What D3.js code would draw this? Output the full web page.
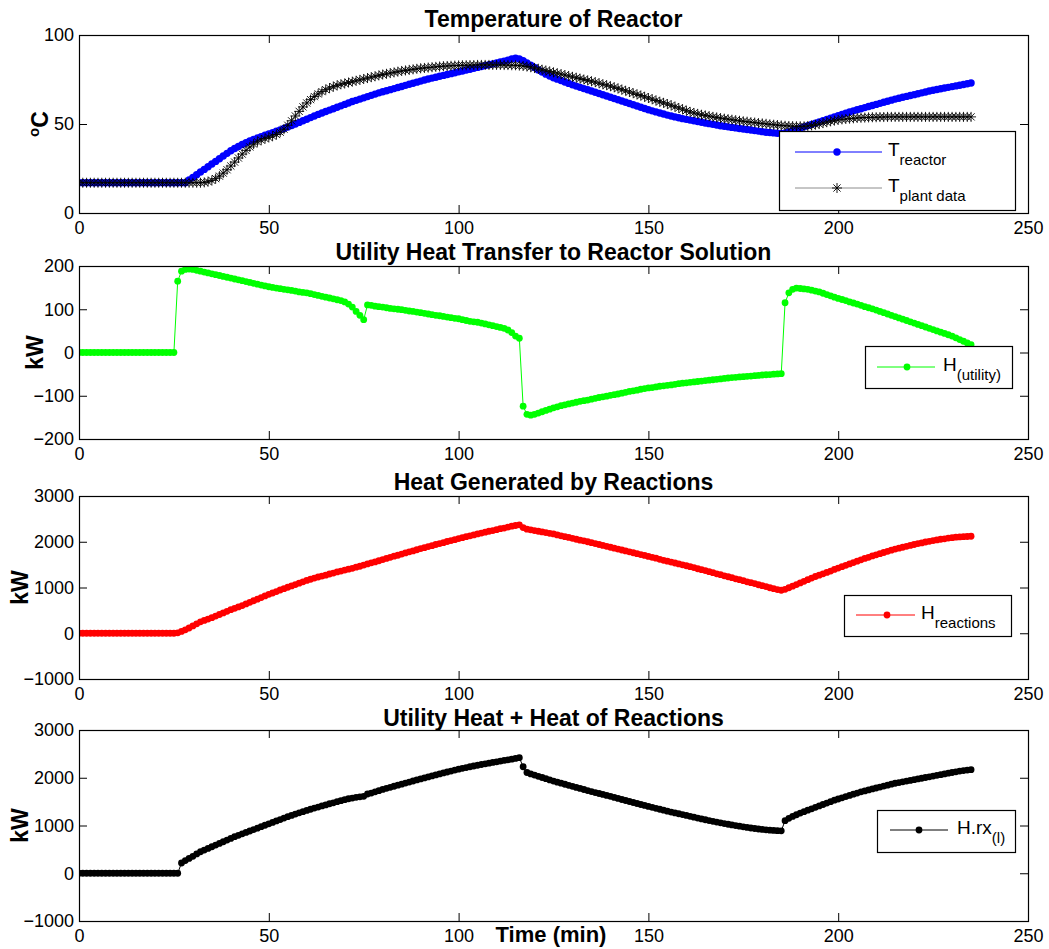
<!DOCTYPE html>
<html>
<head>
<meta charset="utf-8">
<script src="https://cdn.jsdelivr.net/npm/d3@7"></script>
<style>
  body { margin: 0; background: #fff; }
  text { font-family: "Liberation Sans", Arial, sans-serif; fill: #000; }
</style>
</head>
<body>
<svg id="chart" width="1049" height="949"></svg>
<script>
// Samples are logged once per minute, starting at t = 0 min.
const SAMPLE_STEP_MIN = 1;

// Reactor temperature, simulated (degC)
const tReactor = [
  17,17,17,17,17,17,17,17,17,17,
  17,17,17,17,17,17,17,17,17,17,
  17,17,17,17,17,17,17,17,17,18.5,
  20,21.5,23,24.5,26,27.5,29,30.5,32,33.5,
  35,36.2,37.4,38.5,39.5,40.5,41.3,42.1,42.9,43.7,
  44.4,45.1,45.9,46.7,47.5,48.3,49.1,50,50.9,51.8,
  52.7,53.6,54.5,55.4,56.2,57,57.8,58.6,59.4,60.2,
  61,61.8,62.6,63.3,64,64.7,65.4,66.1,66.8,67.5,
  68.1,68.7,69.3,69.9,70.5,71.1,71.7,72.3,72.9,73.5,
  74.1,74.7,75.3,75.8,76.3,76.8,77.3,77.8,78.3,78.8,
  79.3,79.8,80.3,80.8,81.3,81.8,82.3,82.8,83.3,83.8,
  84.3,84.8,85.3,85.9,86.5,87,86.5,85.5,84.3,83,
  81.7,80.4,79.2,78,76.9,76,75.2,74.4,73.6,72.8,
  72,71.3,70.6,69.9,69.2,68.5,67.8,67.1,66.4,65.7,
  65,64.3,63.6,62.9,62.2,61.5,60.8,60.1,59.4,58.7,
  58,57.4,56.8,56.2,55.6,55,54.5,54,53.5,53,
  52.6,52.2,51.8,51.4,51,50.6,50.2,49.8,49.4,49,
  48.7,48.4,48.1,47.8,47.5,47.2,46.9,46.6,46.3,46,
  45.7,45.4,45.2,45,44.8,44.7,45,45.6,46.3,47,
  47.7,48.4,49.1,49.8,50.5,51.2,51.9,52.6,53.3,54,
  54.7,55.4,56.1,56.8,57.4,58,58.6,59.2,59.8,60.4,
  61,61.6,62.2,62.8,63.4,64,64.5,65,65.5,66,
  66.5,67,67.5,68,68.5,69,69.4,69.8,70.2,70.6,
  71,71.4,71.8,72.2,72.6,73
];

// Reactor temperature, plant measurements (degC)
const tPlant = [
  17,17,17,17,17,17,17,17,17,17,
  17,17,17,17,17,17,17,17,17,17,
  17,17,17,17,17,17,17,17,17,17,
  17,17,17,17.2,17.6,18.3,19.3,20.7,22.4,24.3,
  26.4,28.6,30.9,33.1,35.2,37.1,38.7,40,41,41.8,
  42.5,43.2,44.1,45.4,47.1,49.3,51.8,54.5,57.1,59.6,
  61.8,63.7,65.4,66.9,68.2,69.3,70.2,71,71.7,72.3,
  72.8,73.3,73.8,74.3,74.8,75.3,75.8,76.3,76.8,77.3,
  77.8,78.2,78.6,79,79.4,79.8,80.1,80.4,80.7,81,
  81.3,81.5,81.7,81.9,82.1,82.3,82.5,82.6,82.7,82.8,
  82.9,83,83,83.1,83.1,83.2,83.2,83.2,83.2,83.2,
  83.2,83.2,83.1,83.1,83,83,82.8,82.6,82.3,81.9,
  81.5,81,80.5,80,79.5,79,78.5,78,77.5,77,
  76.5,76,75.5,75,74.5,74,73.5,72.9,72.3,71.8,
  71.2,70.6,70,69.3,68.7,68,67.3,66.6,66,65.3,
  64.6,63.9,63.2,62.5,61.9,61.2,60.5,59.7,59,58.3,
  57.5,56.8,56.2,55.7,55.2,54.8,54.4,54,53.7,53.3,
  53,52.7,52.4,52.1,51.8,51.5,51.3,51,50.8,50.5,
  50.3,50.1,49.8,49.6,49.4,49.2,49,48.9,48.8,48.7,
  48.7,48.7,48.9,49.2,49.6,50,50.5,51,51.5,51.9,
  52.3,52.6,52.8,53,53.2,53.4,53.5,53.6,53.7,53.8,
  53.8,53.9,53.9,54,54,54,54,54,54,54,
  54,54,54,54,54,54,54,54,54,54,
  54,54,54,54,54,54
];

// Utility heat transfer to the reactor solution (kW)
const hUtility = [
  0,0,0,0,0,0,0,0,0,0,
  0,0,0,0,0,0,0,0,0,0,
  0,0,0,0,0,0,165,188,192,193,
  192,190,188,186,184,182,180,178,176,174,
  172,170,168,166,164,162,160,158,156,154,
  152,150.5,149,147.5,146,145,143.5,142,140,139,
  138,136,134,132,130,128,126,124,122,120,
  117,112,105,95,86,76,110,109,107,106,
  105,103.5,102,101,100,99,97.5,96,95,93.5,
  92,90.5,89,87.5,86,85,83.5,82,80.5,79,
  78,76,74,72,71,70,68,66,64,62,
  60,58,56,52,46,38,33,-124,-143,-145,
  -143,-140,-137,-134,-131,-128,-125.5,-123,-121,-119,
  -117,-115,-113,-111.5,-110,-108,-106,-104,-102.5,-101,
  -99,-97.5,-96,-94,-92,-90,-88.5,-87,-85,-83.5,
  -82,-81,-79.5,-78,-77,-76,-75,-73.5,-72,-71,
  -70,-69,-68,-67,-66,-65,-64,-63,-62,-61,
  -60,-59,-58,-57.5,-56.5,-56,-55,-54.5,-53.5,-53,
  -52,-51.5,-51,-50,-49.5,-49,115,138,146,149,
  148,147,146,144,142,140,137,134,131,128,
  125,122.5,120,117,114.5,112,109,106,103.5,101,
  98,95,92,89,86,83,80,77,74,71,
  68,65,62,59,56,53,50,47,44,41,
  38,34,30,26,22,18
];

// Heat generated by the reactions (kW)
const hReactions = [
  0,0,0,0,0,0,0,0,0,0,
  0,0,0,0,0,0,0,0,0,0,
  0,0,0,0,0,0,10,40,75,115,
  160,205,250,280,310,340,375,410,445,480,
  515,545,575,605,640,675,710,745,780,815,
  850,880,910,945,975,1005,1035,1065,1095,1125,
  1155,1180,1205,1230,1250,1270,1295,1315,1340,1360,
  1380,1400,1420,1445,1465,1490,1515,1540,1560,1585,
  1610,1635,1660,1685,1705,1730,1755,1780,1800,1825,
  1850,1870,1895,1915,1940,1960,1980,2005,2025,2045,
  2070,2090,2110,2130,2150,2170,2190,2210,2230,2245,
  2265,2285,2300,2320,2340,2355,2370,2310,2275,2260,
  2245,2230,2215,2200,2185,2170,2150,2130,2110,2095,
  2075,2055,2035,2020,2000,1980,1960,1940,1920,1900,
  1880,1860,1840,1820,1800,1780,1760,1740,1720,1700,
  1680,1660,1640,1615,1595,1575,1555,1535,1515,1495,
  1475,1455,1435,1410,1390,1370,1345,1325,1300,1280,
  1255,1235,1215,1190,1170,1150,1125,1105,1085,1060,
  1040,1020,995,975,955,940,960,995,1030,1065,
  1100,1135,1170,1205,1240,1270,1300,1330,1360,1395,
  1425,1455,1485,1515,1545,1575,1605,1635,1660,1690,
  1715,1740,1765,1790,1815,1840,1860,1880,1900,1920,
  1940,1960,1975,1995,2010,2025,2040,2055,2065,2080,
  2090,2100,2105,2110,2115,2120
];

// Utility heat plus heat of reactions, H.rx(l) (kW)
const hRxTotal = [
  0,0,0,0,0,0,0,0,0,0,
  0,0,0,0,0,0,0,0,0,0,
  0,0,0,0,0,0,0,215,265,310,
  355,405,450,485,520,555,590,625,660,695,
  730,765,795,825,855,885,915,945,975,1005,
  1035,1065,1095,1125,1155,1185,1210,1240,1265,1290,
  1315,1340,1365,1385,1410,1430,1455,1475,1500,1520,
  1540,1560,1575,1590,1600,1610,1660,1680,1705,1730,
  1755,1778,1800,1822,1844,1866,1888,1910,1932,1954,
  1975,1996,2017,2038,2059,2080,2100,2120,2140,2160,
  2180,2197,2214,2230,2246,2262,2277,2292,2306,2320,
  2334,2348,2362,2376,2390,2405,2420,2230,2110,2080,
  2055,2030,2005,1980,1955,1930,1908,1886,1864,1842,
  1820,1798,1776,1754,1732,1710,1690,1670,1650,1630,
  1610,1588,1566,1545,1524,1503,1482,1461,1440,1420,
  1400,1380,1360,1340,1320,1300,1282,1264,1246,1228,
  1210,1192,1174,1156,1138,1120,1104,1088,1072,1056,
  1040,1026,1012,998,985,972,960,948,937,927,
  918,910,903,897,892,888,1100,1150,1190,1225,
  1260,1290,1320,1350,1380,1410,1440,1470,1500,1530,
  1555,1580,1605,1630,1655,1680,1705,1725,1745,1765,
  1785,1805,1825,1845,1865,1885,1900,1915,1930,1945,
  1960,1975,1990,2005,2020,2035,2050,2065,2080,2095,
  2110,2125,2140,2150,2160,2170
];

// Axis ticks
const timeTicks = [0, 50, 100, 150, 200, 250];
const tempTicks = [0, 50, 100];
const utilityTicks = [-200, -100, 0, 100, 200];
const powerTicks = [-1000, 0, 1000, 2000, 3000];

// ---------------------------------------------------------------------------
const svg = d3.select("#chart");
const FONT = "'Liberation Sans', Arial, sans-serif";
const x = d3.scaleLinear().domain([0, 250]).range([79, 1028]);
const toPoints = vals => vals.map((v, i) => [i * SAMPLE_STEP_MIN, v]);
const plain = d3.format("d");

// asterisk marker used for the plant data
function starPath(s) {
  const d = s * 0.72;
  return `M${-s},0H${s}M0,${-s}V${s}M${-d},${-d}L${d},${d}M${-d},${d}L${d},${-d}`;
}

const panels = [
  {
    top: 35, bottom: 213, domain: [0, 100], ticks: tempTicks,
    title: "Temperature of Reactor", titleY: 27,
    ylab: "degC", ylabX: 48,
    series: [
      { values: tReactor, color: "#0000ff", lineColor: "#0000ff", marker: "dot", r: 3.7 },
      { values: tPlant, color: "#000", lineColor: "#8c8c8c", marker: "star", r: 5 }
    ],
    legend: { x0: 779, y0: 131, x1: 1015, y1: 210, lx0: 795, lx1: 882, mx: 837, tx: 888,
      rows: [{ y: 152, s: 0, main: "T", sub: "reactor" }, { y: 188, s: 1, main: "T", sub: "plant data" }] }
  },
  {
    top: 266, bottom: 439, domain: [-200, 200], ticks: utilityTicks,
    title: "Utility Heat Transfer to Reactor Solution", titleY: 260,
    ylab: "kW", ylabX: 43,
    series: [{ values: hUtility, color: "#00ff00", lineColor: "#00ff00", marker: "dot", r: 3.4 }],
    legend: { x0: 865, y0: 346, x1: 1012, y1: 388, lx0: 877, lx1: 935, mx: 907, tx: 943,
      rows: [{ y: 367, s: 0, main: "H", sub: "(utility)" }] }
  },
  {
    top: 496, bottom: 679, domain: [-1000, 3000], ticks: powerTicks,
    title: "Heat Generated by Reactions", titleY: 490,
    ylab: "kW", ylabX: 28,
    series: [{ values: hReactions, color: "#ff0000", lineColor: "#ff0000", marker: "dot", r: 3.4 }],
    legend: { x0: 844, y0: 595, x1: 1011, y1: 636, lx0: 856, lx1: 915, mx: 887, tx: 921,
      rows: [{ y: 615, s: 0, main: "H", sub: "reactions" }] }
  },
  {
    top: 730, bottom: 921, domain: [-1000, 3000], ticks: powerTicks,
    title: "Utility Heat + Heat of Reactions", titleY: 725.5,
    ylab: "kW", ylabX: 28,
    series: [{ values: hRxTotal, color: "#000", lineColor: "#000", marker: "dot", r: 3.4 }],
    legend: { x0: 877, y0: 810, x1: 1015, y1: 852, lx0: 890, lx1: 948, mx: 919, tx: 957,
      rows: [{ y: 830, s: 0, main: "H.rx", sub: "(l)" }] }
  }
];

panels.forEach((p, pi) => {
  const y = d3.scaleLinear().domain(p.domain).range([p.bottom, p.top]);
  const g = svg.append("g");
  const clipId = "clip" + pi;
  svg.append("clipPath").attr("id", clipId)
    .append("rect").attr("x", x.range()[0]).attr("y", p.top)
    .attr("width", x.range()[1] - x.range()[0]).attr("height", p.bottom - p.top);

  // axes (inward ticks on all four sides, box style)
  const tick = 8;
  const ax = g.append("g").attr("class", "axes");
  ax.append("g").attr("transform", `translate(0,${p.bottom})`)
    .call(d3.axisBottom(x).tickValues(timeTicks).tickFormat(plain)
      .tickSizeInner(-tick).tickSizeOuter(0).tickPadding(8));
  ax.append("g").attr("transform", `translate(0,${p.top})`)
    .call(d3.axisTop(x).tickValues(timeTicks).tickSizeInner(-tick).tickSizeOuter(0).tickFormat(""));
  ax.append("g").attr("transform", `translate(${x.range()[0]},0)`)
    .call(d3.axisLeft(y).tickValues(p.ticks).tickFormat(plain)
      .tickSizeInner(-tick).tickSizeOuter(0).tickPadding(5));
  ax.append("g").attr("transform", `translate(${x.range()[1]},0)`)
    .call(d3.axisRight(y).tickValues(p.ticks).tickSizeInner(-tick).tickSizeOuter(0).tickFormat(""));
  ax.selectAll(".domain").remove();
  ax.selectAll(".tick line").attr("stroke", "#000").attr("stroke-width", 1);
  ax.selectAll(".tick text").attr("font-size", 18).attr("font-family", FONT).attr("fill", "#000");

  // series: thin connecting line plus markers at every sample
  const plot = g.append("g").attr("clip-path", `url(#${clipId})`);
  const line = d3.line().x(d => x(d[0])).y(d => y(d[1]));
  p.series.forEach(s => {
    const pts = toPoints(s.values);
    plot.append("path").attr("d", line(pts)).attr("fill", "none")
      .attr("stroke", s.lineColor).attr("stroke-width", 1);
    if (s.marker === "dot") {
      plot.append("g").selectAll("circle").data(pts).join("circle")
        .attr("cx", d => x(d[0])).attr("cy", d => y(d[1])).attr("r", s.r)
        .attr("fill", s.color);
    } else {
      plot.append("g").selectAll("path").data(pts).join("path")
        .attr("transform", d => `translate(${x(d[0])},${y(d[1])})`)
        .attr("d", starPath(s.r)).attr("fill", "none")
        .attr("stroke", s.color).attr("stroke-width", 0.9);
    }
  });

  // frame
  g.append("rect").attr("x", x.range()[0] + 0.5).attr("y", p.top + 0.5)
    .attr("width", x.range()[1] - x.range()[0]).attr("height", p.bottom - p.top)
    .attr("fill", "none").attr("stroke", "#000").attr("stroke-width", 1.2);

  // title
  g.append("text").attr("x", (x.range()[0] + x.range()[1]) / 2).attr("y", p.titleY)
    .attr("text-anchor", "middle").attr("font-weight", "bold").attr("font-size", 23)
    .text(p.title);

  // y label
  const cy = (p.top + p.bottom) / 2;
  const yl = g.append("text").attr("transform", `translate(${p.ylabX},${cy}) rotate(-90)`)
    .attr("text-anchor", "middle").attr("font-weight", "bold").attr("font-size", 23);
  if (p.ylab === "degC") {
    yl.append("tspan").attr("font-size", 15).attr("dy", -9).text("o");
    yl.append("tspan").attr("dy", 9).text("C");
  } else {
    yl.text(p.ylab);
  }

  // legend
  const L = p.legend;
  const lg = g.append("g");
  lg.append("rect").attr("x", L.x0 + 0.5).attr("y", L.y0 + 0.5)
    .attr("width", L.x1 - L.x0).attr("height", L.y1 - L.y0)
    .attr("fill", "#fff").attr("stroke", "#000").attr("stroke-width", 1.2);
  L.rows.forEach(r => {
    const s = p.series[r.s];
    lg.append("line").attr("x1", L.lx0).attr("x2", L.lx1).attr("y1", r.y).attr("y2", r.y)
      .attr("stroke", s.lineColor).attr("stroke-width", 1);
    if (s.marker === "dot") {
      lg.append("circle").attr("cx", L.mx).attr("cy", r.y).attr("r", s.r).attr("fill", s.color);
    } else {
      lg.append("path").attr("transform", `translate(${L.mx},${r.y})`).attr("d", starPath(s.r))
        .attr("fill", "none").attr("stroke", s.color).attr("stroke-width", 0.9);
    }
    const t = lg.append("text").attr("x", L.tx).attr("y", r.y + 4).attr("font-size", 19);
    t.append("tspan").text(r.main);
    t.append("tspan").attr("font-size", 15).attr("dy", 9).text(r.sub);
  });
});

// x label
svg.append("text").attr("x", 551).attr("y", 942).attr("text-anchor", "middle")
  .attr("font-weight", "bold").attr("font-size", 22).text("Time (min)");
</script>
</body>
</html>
